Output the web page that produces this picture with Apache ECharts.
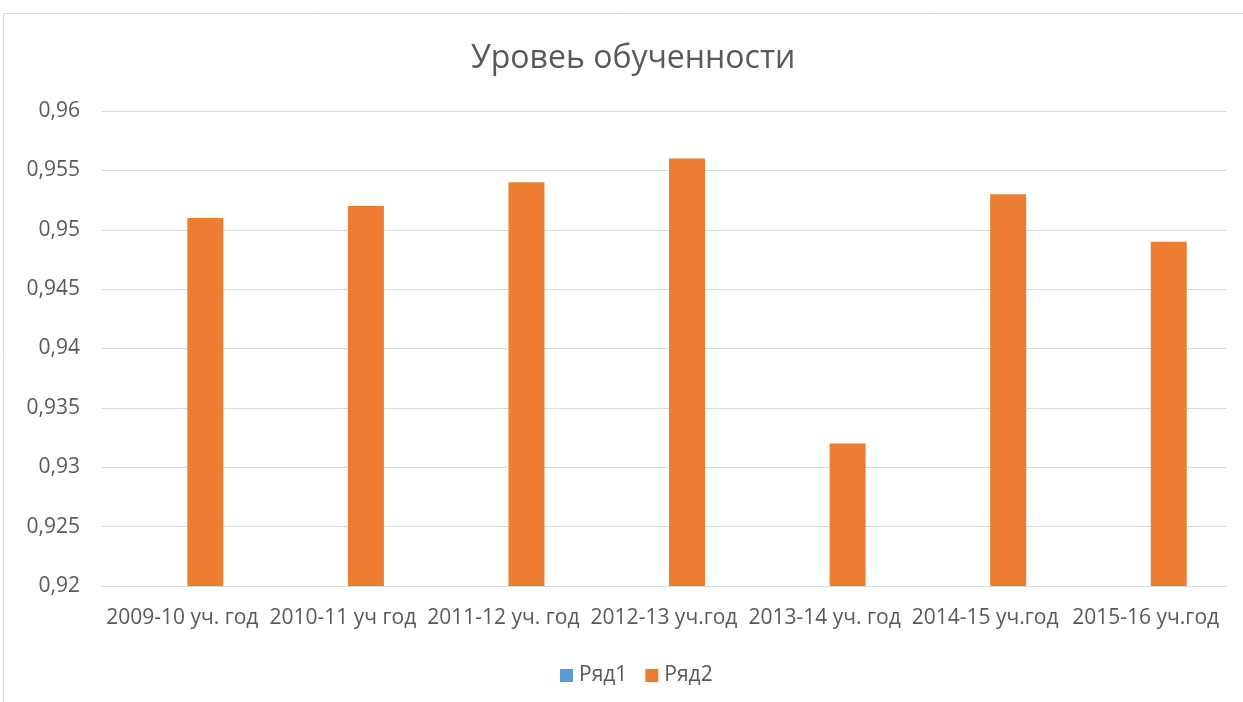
<!DOCTYPE html>
<html><head><meta charset="utf-8">
<script src="https://cdn.jsdelivr.net/npm/echarts@6/dist/echarts.min.js"></script>
<style>html,body{margin:0;padding:0;background:#fff}#c{width:1243px;height:702px}</style>
</head><body><div id="c"></div>
<script>
const categories = ['2009-10 уч. год','2010-11 уч год','2011-12 уч. год','2012-13 уч.год','2013-14 уч. год','2014-15 уч.год','2015-16 уч.год'];
const series1 = [null,null,null,null,null,null,null];
const series2 = [0.951,0.952,0.954,0.956,0.932,0.953,0.949];
const seriesNames = ['Ряд1','Ряд2'];
const font = '"Open Sans", "Noto Sans", sans-serif';
const chart = echarts.init(document.getElementById('c'));
chart.setOption({
  backgroundColor:'#fff',
  animation:false,
  graphic:[{type:'rect',shape:{x:3.5,y:13.5,width:1260,height:700},style:{fill:null,stroke:'#d9d9d9',lineWidth:1}}],
  title:{text:'Уровеь обученности',left:466,top:38,textStyle:{fontFamily:font,fontSize:32,fontWeight:'normal',color:'#595959'}},
  legend:{top:660,left:555,itemWidth:13,itemHeight:13,itemGap:18,icon:'rect',textStyle:{fontFamily:font,fontSize:21,color:'#595959',padding:[0,0,0,1]},data:seriesNames},
  grid:{left:102,right:17,top:111,bottom:116,containLabel:false},
  xAxis:{type:'category',data:categories,axisLine:{lineStyle:{color:'#d9d9d9',width:1}},axisTick:{show:false},
    axisLabel:{interval:0,fontFamily:font,fontSize:21,color:'#595959',margin:22}},
  yAxis:{type:'value',min:0.92,max:0.96,interval:0.005,
    axisLine:{show:false},axisTick:{show:false},
    splitLine:{lineStyle:{color:'#d9d9d9',width:1}},
    axisLabel:{fontFamily:font,fontSize:21,color:'#595959',margin:22,formatter:v=>String(+v.toFixed(3)).replace('.',',')}},
  series:[
    {name:seriesNames[0],type:'bar',data:series1,barWidth:36,barGap:'28%',itemStyle:{color:'#5b9bd5'}},
    {name:seriesNames[1],type:'bar',data:series2,barWidth:36,barGap:'28%',itemStyle:{color:'#ed7d31'}}
  ]
});
</script></body></html>
